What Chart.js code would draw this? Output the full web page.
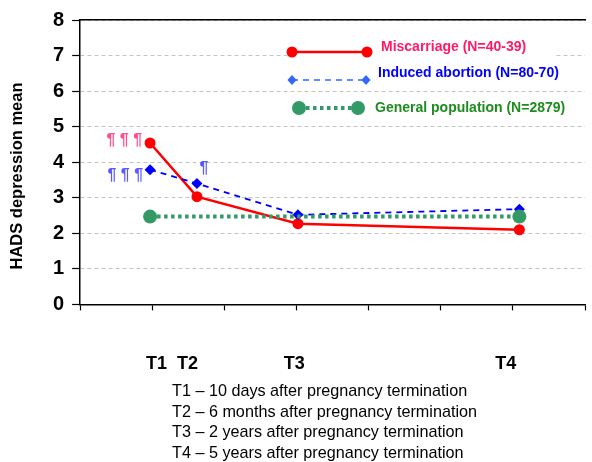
<!DOCTYPE html>
<html>
<head>
<meta charset="utf-8">
<script src="https://cdn.jsdelivr.net/npm/chart.js@4/dist/chart.umd.min.js"></script>
<style>
  html, body { margin: 0; padding: 0; background: #fff; }
  #wrap { position: relative; width: 592px; height: 462px; }
  #c { position: absolute; left: 0; top: 0; }
  #notes { position: absolute; left: 172px; top: 380px; font: 16.2px "Liberation Sans", Arial, sans-serif; line-height: 20.5px; color: #000; white-space: nowrap; }
</style>
</head>
<body>
<div id="wrap">
  <canvas id="c" width="592" height="462"></canvas>
  <div id="notes"></div>
</div>
<script>
// ---- data ----
const timeLabels = ['T1', 'T2', 'T3', 'T4'];
const timeX = [0.97, 1.62, 3.02, 6.09];            // x position of each time point on the axis
const timeLabelX = [1.06, 1.49, 2.97, 5.90];       // where the T labels sit under the axis
const miscarriage = [4.54, 3.03, 2.27, 2.10];
const inducedAbortion = [3.79, 3.40, 2.52, 2.68];
const generalPopX = [0.97, 6.09];
const generalPop = [2.47, 2.47];
const seriesNames = ['Miscarriage (N=40-39)', 'Induced abortion (N=80-70)', 'General population (N=2879)'];
const yTicks = [0, 1, 2, 3, 4, 5, 6, 7, 8];
const footnotes = [
  'T1 \u2013 10 days after pregnancy termination',
  'T2 \u2013 6 months after pregnancy termination',
  'T3 \u2013 2 years after pregnancy termination',
  'T4 \u2013 5 years after pregnancy termination'
];

document.getElementById('notes').innerHTML = footnotes.map(t => '<div>' + t + '</div>').join('');

const FONT = '"Liberation Sans", Arial, sans-serif';
const RED = '#ff0000', BLUE = '#0000ff', GREEN = '#339966';

const pts = (xs, ys) => xs.map((x, i) => ({ x: x, y: ys[i] }));

const overlay = {
  id: 'overlay',
  afterDatasetsDraw(chart) {
    const ctx = chart.ctx;
    const xs = chart.scales.x, ys = chart.scales.y;
    ctx.save();
    // y title
    ctx.save();
    ctx.translate(17, 176);
    ctx.rotate(-Math.PI / 2);
    ctx.font = 'bold 16.5px ' + FONT;
    ctx.fillStyle = '#000';
    ctx.textAlign = 'center';
    ctx.textBaseline = 'middle';
    ctx.fillText('HADS depression mean', 0, 0);
    ctx.restore();

    // legend
    ctx.fillStyle = '#fff';
    ctx.fillRect(288, 42, 268, 20);
    ctx.textBaseline = 'middle';
    ctx.textAlign = 'left';
    ctx.font = 'bold 14px ' + FONT;
    // miscarriage
    ctx.strokeStyle = RED; ctx.lineWidth = 2.5; ctx.setLineDash([]);
    ctx.beginPath(); ctx.moveTo(292, 52); ctx.lineTo(367, 52); ctx.stroke();
    ctx.fillStyle = RED;
    [292, 367].forEach(x => { ctx.beginPath(); ctx.arc(x, 52, 5.5, 0, Math.PI * 2); ctx.fill(); });
    ctx.fillStyle = '#ff1a66';
    ctx.fillText(seriesNames[0], 381, 47);
    // induced abortion
    ctx.strokeStyle = '#3366ff'; ctx.lineWidth = 1.5; ctx.setLineDash([6, 5]);
    ctx.beginPath(); ctx.moveTo(292, 80); ctx.lineTo(366, 80); ctx.stroke();
    ctx.setLineDash([]);
    ctx.fillStyle = '#3366ff';
    [292, 366].forEach(x => { ctx.beginPath(); ctx.moveTo(x, 75); ctx.lineTo(x + 4.5, 80); ctx.lineTo(x, 85); ctx.lineTo(x - 4.5, 80); ctx.closePath(); ctx.fill(); });
    ctx.fillStyle = '#0000ff';
    ctx.fillText(seriesNames[1], 378, 73.5);
    // general population
    ctx.strokeStyle = GREEN; ctx.lineWidth = 4; ctx.setLineDash([3.5, 3.5]);
    ctx.beginPath(); ctx.moveTo(299, 108); ctx.lineTo(358, 108); ctx.stroke();
    ctx.setLineDash([]);
    ctx.fillStyle = GREEN;
    [299, 358].forEach(x => { ctx.beginPath(); ctx.arc(x, 108, 7, 0, Math.PI * 2); ctx.fill(); });
    ctx.fillStyle = '#1e8c1e';
    ctx.fillText(seriesNames[2], 375, 108.5);

    // significance marks
    ctx.font = 'bold 16px ' + FONT;
    ctx.textAlign = 'right';
    const rx = xs.getPixelForValue(timeX[0]), ry = ys.getPixelForValue(miscarriage[0]);
    ctx.fillStyle = 'rgba(255,20,110,0.75)';
    ctx.fillText('\u00b6 \u00b6 \u00b6', rx - 8, ry - 2);
    const by = ys.getPixelForValue(inducedAbortion[0]);
    ctx.fillStyle = 'rgba(20,20,255,0.7)';
    ctx.fillText('\u00b6 \u00b6 \u00b6', rx - 7, by + 6);
    const bx2 = xs.getPixelForValue(timeX[1]), by2 = ys.getPixelForValue(inducedAbortion[1]);
    ctx.textAlign = 'center';
    ctx.fillText('\u00b6', bx2 + 7, by2 - 15);
    ctx.restore();
  }
};

new Chart(document.getElementById('c'), {
  type: 'scatter',
  data: {
    datasets: [
      {
        label: seriesNames[2], data: pts(generalPopX, generalPop), showLine: true,
        borderColor: GREEN, backgroundColor: GREEN, borderWidth: 4, borderDash: [3.5, 3.5],
        pointRadius: 7, pointStyle: 'circle', pointBorderWidth: 0
      },
      {
        label: seriesNames[1], data: pts(timeX, inducedAbortion), showLine: true,
        borderColor: BLUE, backgroundColor: BLUE, borderWidth: 1.8, borderDash: [6, 5],
        pointRadius: 5.5, pointStyle: 'rectRot', pointBorderWidth: 0
      },
      {
        label: seriesNames[0], data: pts(timeX, miscarriage), showLine: true,
        borderColor: RED, backgroundColor: RED, borderWidth: 2.5,
        pointRadius: 5.5, pointStyle: 'circle', pointBorderWidth: 0
      }
    ]
  },
  options: {
    responsive: false,
    animation: false,
    layout: { padding: { left: 45, right: 1, top: 6, bottom: 52 } },
    plugins: { legend: { display: false }, tooltip: { enabled: false } },
    scales: {
      x: {
        type: 'linear', position: 'bottom', min: 0, max: 7,
        ticks: { stepSize: 1, display: false },
        grid: { drawOnChartArea: false, tickLength: 6, tickColor: '#000', tickWidth: 1.2 },
        border: { color: '#000', width: 1.5 }
      },
      xT: {
        type: 'linear', position: 'bottom', min: 0, max: 7,
        afterBuildTicks: s => { s.ticks = timeLabelX.map(v => ({ value: v })); },
        ticks: {
          autoSkip: false, maxRotation: 0, padding: 35, color: '#000',
          font: { family: FONT, size: 18, weight: 'bold' },
          callback: (v, i) => timeLabels[i]
        },
        grid: { display: false },
        border: { display: false }
      },
      xTop: {
        type: 'linear', position: 'top', min: 0, max: 7,
        ticks: { display: false },
        grid: { display: false },
        border: { color: '#000', width: 1.5 }
      },
      y: {
        min: 0, max: 8,
        afterBuildTicks: s => { s.ticks = yTicks.map(v => ({ value: v })); },
        ticks: { padding: 8, color: '#000', font: { family: FONT, size: 20, weight: 'bold' } },
        grid: { color: '#c4c4c4', lineWidth: 1, tickColor: '#000', tickLength: 8, tickWidth: 1.2 },
        border: { color: '#000', width: 1.5, dash: [4, 3] }
      }
    }
  },
  plugins: [overlay]
});
</script>
</body>
</html>
